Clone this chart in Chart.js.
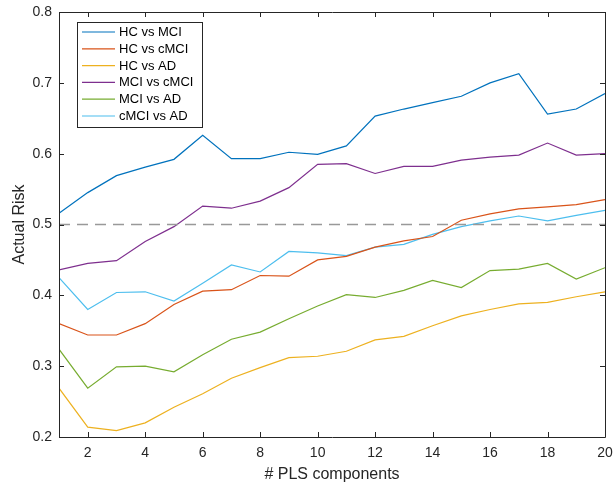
<!DOCTYPE html>
<html lang="en">
  <head>
    <meta charset="UTF-8" />
    <title>Actual Risk vs PLS components</title>
    <script src="https://cdn.jsdelivr.net/npm/chart.js"></script>
    <style>
      html, body { margin: 0; padding: 0; background: #fff; }
      #wrap { width: 613px; height: 486px; }
    </style>
  </head>
  <body>
    <div id="wrap"><canvas id="chart"></canvas></div>
    <script>
      const components = [1, 2, 3, 4, 5, 6, 7, 8, 9, 10, 11, 12, 13, 14, 15, 16, 17, 18, 19, 20];
      const xTicks = [2, 4, 6, 8, 10, 12, 14, 16, 18, 20];
      const yTicks = [0.2, 0.3, 0.4, 0.5, 0.6, 0.7, 0.8];
      const chanceLevel = 0.5;

      const hcVsMci = [0.516, 0.545, 0.569, 0.581, 0.592, 0.626, 0.593, 0.593, 0.602, 0.599,
                       0.611, 0.653, 0.663, 0.672, 0.681, 0.700, 0.713, 0.656, 0.663, 0.685];
      const hcVsCmci = [0.360, 0.344, 0.344, 0.360, 0.387, 0.406, 0.408, 0.428, 0.427, 0.450,
                        0.455, 0.468, 0.477, 0.483, 0.506, 0.515, 0.522, 0.525, 0.528, 0.535];
      const hcVsAd = [0.269, 0.214, 0.209, 0.220, 0.242, 0.261, 0.283, 0.298, 0.312, 0.314,
                      0.321, 0.337, 0.342, 0.357, 0.371, 0.380, 0.388, 0.390, 0.398, 0.405];
      const mciVsCmci = [0.436, 0.445, 0.449, 0.476, 0.497, 0.526, 0.523, 0.533, 0.552, 0.585,
                         0.586, 0.572, 0.582, 0.582, 0.591, 0.595, 0.598, 0.615, 0.598, 0.600];
      const mciVsAd = [0.324, 0.269, 0.299, 0.300, 0.292, 0.316, 0.338, 0.348, 0.367, 0.385,
                       0.401, 0.397, 0.407, 0.421, 0.411, 0.435, 0.437, 0.445, 0.423, 0.439];
      const cmciVsAd = [0.425, 0.380, 0.404, 0.405, 0.392, 0.417, 0.443, 0.433, 0.462, 0.460,
                        0.456, 0.468, 0.472, 0.486, 0.497, 0.505, 0.512, 0.505, 0.513, 0.520];

      const seriesNames = ["HC vs MCI", "HC vs cMCI", "HC vs AD", "MCI vs cMCI", "MCI vs AD", "cMCI vs AD"];
      const seriesValues = [hcVsMci, hcVsCmci, hcVsAd, mciVsCmci, mciVsAd, cmciVsAd];
      const colors = ["#0072BD", "#D95319", "#EDB120", "#7E2F8E", "#77AC30", "#4DBEEE"];

      const FONT = "'Liberation Sans', Arial, Helvetica, sans-serif";
      const AXIS = "#262626";

      const datasets = seriesValues.map((vals, i) => ({
        label: seriesNames[i],
        data: vals.map((v, j) => ({ x: components[j], y: v })),
        borderColor: colors[i],
        backgroundColor: colors[i],
        borderWidth: 1.2,
        pointRadius: 0,
        tension: 0,
      }));
      datasets.unshift({
        label: "chance",
        data: [{ x: components[0], y: chanceLevel }, { x: components[components.length - 1], y: chanceLevel }],
        borderColor: "#999999",
        borderWidth: 1.5,
        borderDash: [11, 7],
        pointRadius: 0,
      });

      // MATLAB-style box with inward ticks + legend inside the axes
      const matlabBox = {
        id: "matlabBox",
        afterDatasetsDraw(chart) {
          const { ctx, chartArea: a, scales } = chart;
          ctx.save();
          ctx.strokeStyle = AXIS;
          ctx.lineWidth = 1;
          ctx.beginPath();
          ctx.rect(Math.round(a.left) + 0.5, Math.round(a.top) + 0.5,
                   Math.round(a.right - a.left), Math.round(a.bottom - a.top));
          const tl = 5;
          xTicks.forEach(t => {
            const px = Math.round(scales.x.getPixelForValue(t)) + 0.5;
            ctx.moveTo(px, a.bottom); ctx.lineTo(px, a.bottom - tl);
            ctx.moveTo(px, a.top); ctx.lineTo(px, a.top + tl);
          });
          yTicks.forEach(t => {
            const py = Math.round(scales.y.getPixelForValue(t)) + 0.5;
            ctx.moveTo(a.left, py); ctx.lineTo(a.left + tl, py);
            ctx.moveTo(a.right, py); ctx.lineTo(a.right - tl, py);
          });
          ctx.stroke();

          // legend
          const lx = 77.5, ly = 22.5, lw = 125, lh = 105;
          ctx.fillStyle = "#fff";
          ctx.fillRect(lx, ly, lw, lh);
          ctx.strokeStyle = AXIS;
          ctx.strokeRect(lx, ly, lw, lh);
          ctx.font = "13px " + FONT;
          ctx.textBaseline = "middle";
          ctx.textAlign = "left";
          seriesNames.forEach((name, i) => {
            const y = 32 + i * 16.8;
            ctx.strokeStyle = colors[i];
            ctx.lineWidth = 1.2;
            ctx.beginPath();
            ctx.moveTo(82, y); ctx.lineTo(115, y);
            ctx.stroke();
            ctx.fillStyle = "#000";
            ctx.fillText(name, 119, y + 0.5);
          });
          ctx.restore();
        },
      };

      new Chart(document.getElementById("chart"), {
        type: "line",
        data: { datasets },
        options: {
          responsive: true,
          maintainAspectRatio: false,
          animation: false,
          layout: { padding: { top: 12, right: 8, left: 0, bottom: 0 } },
          plugins: { legend: { display: false }, tooltip: { enabled: false } },
          scales: {
            x: {
              type: "linear",
              min: 1,
              max: 20,
              afterBuildTicks: s => { s.ticks = xTicks.map(v => ({ value: v })); },
              afterFit: s => { s.height = 49; s.paddingLeft = 0; s.paddingRight = 0; },
              grid: { display: false, drawTicks: false },
              border: { display: false },
              ticks: { color: AXIS, padding: 8, maxRotation: 0, font: { family: FONT, size: 14 } },
              title: { display: true, text: "# PLS components", color: AXIS,
                       font: { family: FONT, size: 16 }, padding: { top: 0, bottom: 2 } },
            },
            y: {
              min: 0.2,
              max: 0.8,
              afterBuildTicks: s => { s.ticks = yTicks.map(v => ({ value: v })); },
              afterFit: s => { s.width = 59; s.paddingTop = 0; s.paddingBottom = 0; },
              grid: { display: false, drawTicks: false },
              border: { display: false },
              ticks: { color: AXIS, padding: 7, font: { family: FONT, size: 14 },
                       callback: v => v.toFixed(1) },
              title: { display: true, text: "Actual Risk", color: AXIS,
                       font: { family: FONT, size: 16 }, padding: { top: 10, bottom: 0 } },
            },
          },
        },
        plugins: [matlabBox],
      });
    </script>
  </body>
</html>
